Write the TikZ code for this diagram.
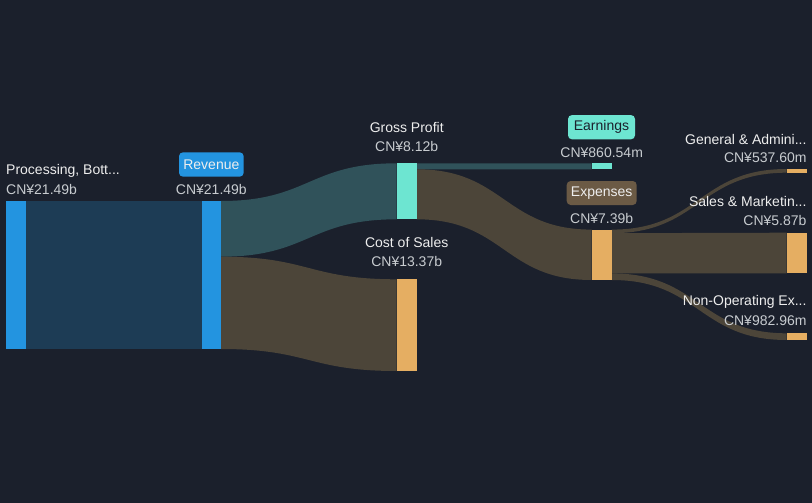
\documentclass[tikz,border=0pt]{standalone}
\usepackage{fontspec}
\setmainfont{Liberation Sans}
\definecolor{bg}{HTML}{1B202C}
\definecolor{blu}{HTML}{2394E0}
\definecolor{dblock}{HTML}{1D3C55}
\definecolor{tealflow}{HTML}{30525A}
\definecolor{brnflow}{HTML}{4C4539}
\definecolor{org}{HTML}{E5AE62}
\definecolor{mint}{HTML}{6DE5D1}
\definecolor{expbox}{HTML}{6B5A45}
\definecolor{lbl}{HTML}{EEEEEE}
\definecolor{val}{HTML}{C8CCD0}
\tikzset{
  bar/.style={inner sep=0pt, outer sep=0pt, minimum width=20pt, draw=none},
  lab/.style={text=lbl, font=\fontsize{14}{16}\selectfont, inner sep=0pt},
  vallab/.style={text=val, font=\fontsize{14}{16}\selectfont, inner sep=0pt},
  pill/.style={rounded corners=4pt, inner sep=0pt, font=\fontsize{14}{16}\selectfont}
}
\newcommand{\flow}[7]{% color, x0, y0t, y0b, x1, y1t, y1b
  \pgfmathsetmacro{\xm}{(#2+#5)/2}
  \fill[#1] (#2,#3) .. controls (\xm,#3) and (\xm,#6) .. (#5,#6) -- (#5,#7) .. controls (\xm,#7) and (\xm,#4) .. (#2,#4) -- cycle;
}
\begin{document}
\begin{tikzpicture}[x=1pt,y=-1pt]
\fill[bg] (0,0) rectangle (812,503);
\useasboundingbox (0,0) rectangle (812,503);
% flows
\fill[dblock] (26,201) rectangle (201.7,349);
\flow{tealflow}{221}{201}{256.7}{396.7}{163.3}{219.3}
\flow{brnflow}{221}{256.7}{349}{396.7}{279.3}{371}
\flow{tealflow}{416.7}{163.3}{169.3}{591.7}{163.3}{169.3}
\flow{brnflow}{416.7}{169.3}{219.3}{591.7}{229.6}{280}
\flow{brnflow}{611.7}{229.6}{233.2}{786.7}{169}{172.7}
\flow{brnflow}{611.7}{233.2}{273.4}{786.7}{232.7}{273.3}
\flow{brnflow}{611.7}{273.4}{280}{786.7}{333.3}{340}
% bars
\node[bar, fill=blu, minimum height=148pt] (proc) at (16,275) {};
\node[bar, fill=blu, minimum height=148pt, minimum width=19.3pt] (rev) at (211.35,275) {};
\node[bar, fill=mint, minimum height=56pt] (gp) at (406.7,191.3) {};
\node[bar, fill=org, minimum height=91.7pt] (cos) at (406.7,325.15) {};
\node[bar, fill=mint, minimum height=6pt] (earn) at (601.7,166.3) {};
\node[bar, fill=org, minimum height=50.4pt] (exp) at (601.7,254.8) {};
\node[bar, fill=org, minimum height=3.7pt] (ga) at (796.7,170.85) {};
\node[bar, fill=org, minimum height=40.6pt] (sm) at (796.7,253) {};
\node[bar, fill=org, minimum height=6.7pt] (nop) at (796.7,336.65) {};
% labels
\node[lab, anchor=west] (procl) at (6,170.7) {Processing, Bott...};
\node[vallab, anchor=west] (procv) at (6,189) {CN¥21.49b};
\node[pill, fill=blu, text=lbl, minimum width=64.7pt, minimum height=24.4pt] (revl) at (211.35,164.5) {Revenue};
\node[vallab] (revv) at (211.35,189) {CN¥21.49b};
\node[lab] (gpl) at (406.7,127) {Gross Profit};
\node[vallab] (gpv) at (406.7,146) {CN¥8.12b};
\node[lab] (cosl) at (406.7,242) {Cost of Sales};
\node[vallab] (cosv) at (406.7,261.7) {CN¥13.37b};
\node[pill, fill=mint, text=bg, minimum width=67pt, minimum height=24.3pt] (earnl) at (601.5,127.2) {Earnings};
\node[vallab] (earnv) at (601.7,152.3) {CN¥860.54m};
\node[pill, fill=expbox, text=lbl, minimum width=70pt, minimum height=24pt] (expl) at (601.7,193) {Expenses};
\node[vallab] (expv) at (601.7,218.3) {CN¥7.39b};
\node[lab, anchor=east] (gal) at (806.7,139) {General \& Admini...};
\node[vallab, anchor=east] (gav) at (806.7,157.3) {CN¥537.60m};
\node[lab, anchor=east] (sml) at (806.7,201.7) {Sales \& Marketin...};
\node[vallab, anchor=east] (smv) at (806.7,220.7) {CN¥5.87b};
\node[lab, anchor=east] (nopl) at (806.7,302.3) {Non-Operating Ex...};
\node[vallab, anchor=east] (nopv) at (806.7,321) {CN¥982.96m};
\end{tikzpicture}
\end{document}
